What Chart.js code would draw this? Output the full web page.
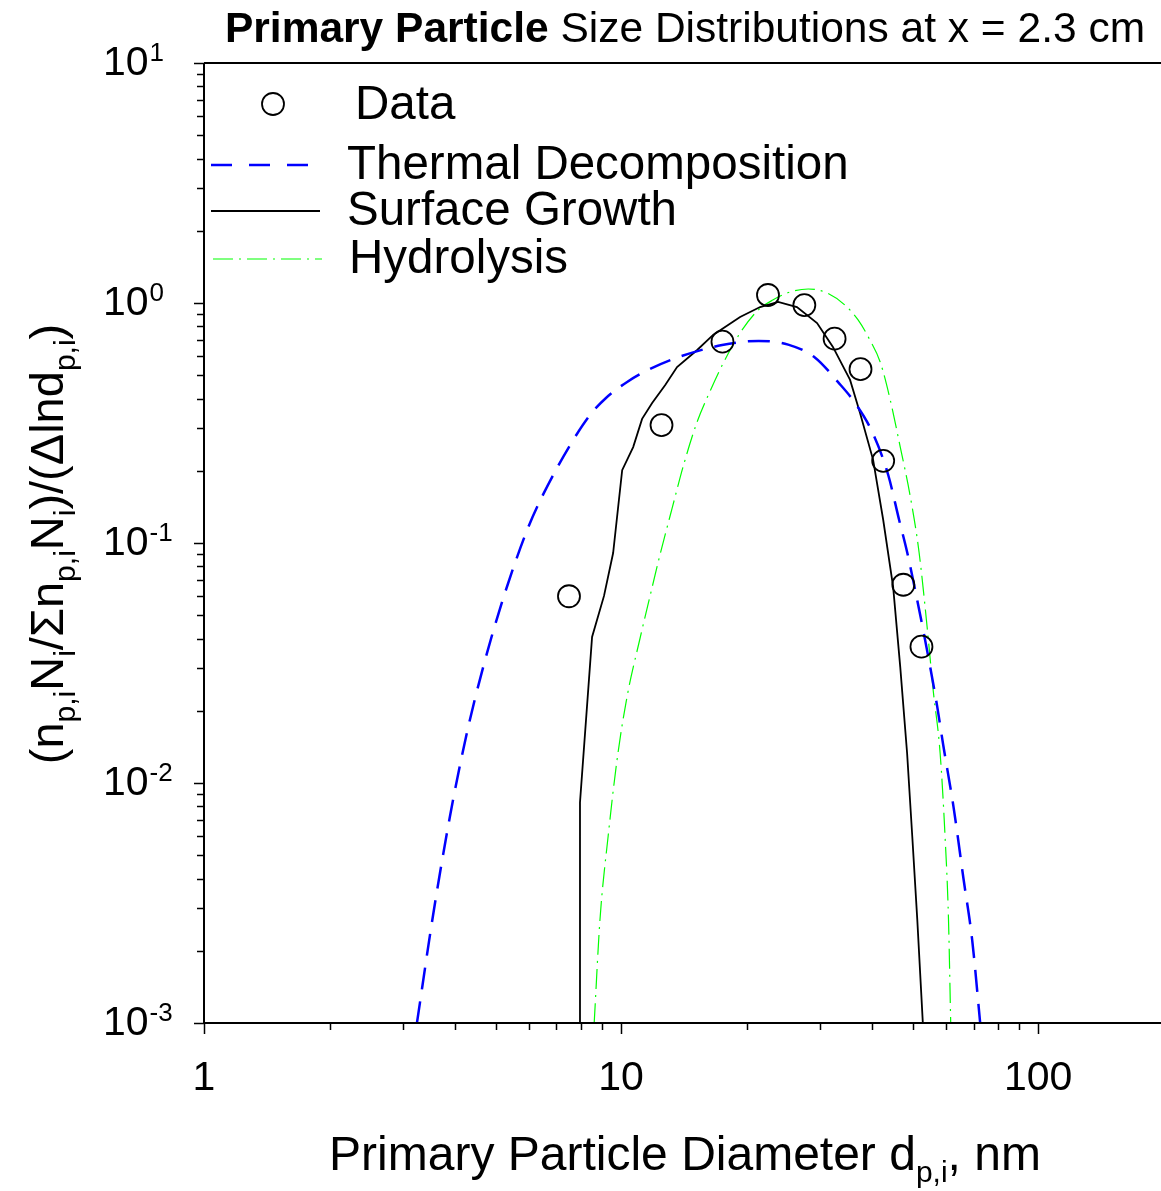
<!DOCTYPE html>
<html>
<head>
<meta charset="utf-8">
<title>Primary Particle Size Distributions</title>
<script src="https://cdn.jsdelivr.net/npm/chart.js@4.4.1/dist/chart.umd.min.js"></script>
<style>
  html, body { margin: 0; padding: 0; background: #fff; }
  #psd { display: block; }
</style>
</head>
<body>
<canvas id="psd" width="1161" height="1191"></canvas>
<script>
// Measured primary particle sizes (bin centres, nm) and normalised fractions
const dataDiameter = [7.5, 12.5, 17.5, 22.5, 27.5, 32.5, 37.5, 42.5, 47.5, 52.5];
const dataFraction = [0.060, 0.31, 0.69, 1.08, 0.98, 0.71, 0.53, 0.22, 0.067, 0.037];

// Model: thermal decomposition
const thermalDiameter = [3.24, 3.54, 3.89, 4.27, 4.67, 5.21, 5.95, 6.50, 7.55, 8.43, 9.2, 10.34, 11.73, 13.77, 17.47, 21.37,
  25.15, 29.19, 33.1, 36.4, 40.2, 43.7, 46.4, 48.5, 50.7, 53.0, 55.1, 57.3, 59.2, 62.7, 66.2, 69.5, 72.6];
const thermalValue = [0.001, 0.0028, 0.0073, 0.0162, 0.0304, 0.0584, 0.113, 0.159, 0.256, 0.342, 0.402, 0.469, 0.531, 0.596, 0.668, 0.695,
  0.671, 0.592, 0.469, 0.383, 0.285, 0.192, 0.125, 0.0917, 0.0637, 0.0434, 0.0304, 0.0207, 0.0144, 0.0079, 0.0040, 0.0022, 0.001];

// Model: surface growth
const surfaceDiameter = [7.94, 7.97, 8.52, 9.10, 9.57, 10.06, 10.69, 11.23, 11.87, 12.76, 13.62, 15.22, 16.62, 19.29,
  21.54, 23.8, 26.4, 29.5, 32.2, 35.4, 37.4, 40.2, 42.5, 44.9, 46.7, 48.5, 49.9, 51.3, 52.9];
const surfaceValue = [0.001, 0.0083, 0.0406, 0.0602, 0.0908, 0.201, 0.251, 0.329, 0.383, 0.455, 0.541, 0.637, 0.736, 0.874,
  0.962, 1.01, 0.962, 0.825, 0.656, 0.478, 0.348, 0.222, 0.125, 0.0656, 0.0304, 0.0133, 0.0060, 0.0027, 0.001];

// Model: hydrolysis
const hydroDiameter = [8.62, 8.90, 9.31, 9.78, 10.34, 11.1, 11.73, 12.41, 13.26, 14.16, 15.22, 16.35, 17.56, 19.29,
  21.2, 23.1, 25.4, 28.1, 31.2, 34.4, 37.0, 39.5, 41.8, 44.2, 46.7, 49.3, 51.8, 54.2, 56.0, 58.2, 59.8, 60.95, 61.7];
const hydroValue = [0.001, 0.0027, 0.0060, 0.0125, 0.0230, 0.0400, 0.0600, 0.090, 0.140, 0.215, 0.320, 0.430, 0.560, 0.750,
  0.926, 1.029, 1.111, 1.144, 1.10, 0.981, 0.850, 0.701, 0.568, 0.394, 0.251, 0.158, 0.0917, 0.0442, 0.0244, 0.0133, 0.0060, 0.0027, 0.001];

// Axis ticks
const xTickValues = [1, 10, 100];
const xTickLabels = ['1', '10', '100'];
const yTickExponents = [1, 0, -1, -2, -3];

const legendLabels = ['Data', 'Thermal Decomposition', 'Surface Growth', 'Hydrolysis'];

const FONT = '"Liberation Sans", Arial, Helvetica, sans-serif';
const DASH_BLUE = [22, 12];
const DASH_GREEN = [20, 6, 2, 6];

function toPoints(xs, ys) {
    return xs.map((x, i) => ({ x: x, y: ys[i] }));
}

// draws a run of text pieces; pieces flagged sub are smaller and dropped below the baseline
function drawRichText(ctx, pieces, x, y, size, subSize, subDrop) {
    let cx = x;
    pieces.forEach(p => {
        const weight = p.bold ? 'bold ' : '';
        ctx.font = weight + (p.sub ? subSize : size) + 'px ' + FONT;
        ctx.fillText(p.text, cx, p.sub ? y + subDrop : y);
        cx += ctx.measureText(p.text).width;
    });
    return cx - x;
}

function richWidth(ctx, pieces, size, subSize) {
    let w = 0;
    pieces.forEach(p => {
        ctx.font = (p.bold ? 'bold ' : '') + (p.sub ? subSize : size) + 'px ' + FONT;
        w += ctx.measureText(p.text).width;
    });
    return w;
}

// Frame, log ticks, labels, titles and legend
const decorations = {
    id: 'decorations',
    afterDraw(chart) {
        const ctx = chart.ctx;
        const area = chart.chartArea;
        const xs = chart.scales.x;
        const ys = chart.scales.y;
        ctx.save();
        ctx.strokeStyle = '#000';
        ctx.fillStyle = '#000';
        ctx.lineWidth = 2;

        // frame: left, bottom, top
        ctx.beginPath();
        ctx.moveTo(area.left, area.top);
        ctx.lineTo(area.left, area.bottom);
        ctx.lineTo(area.right, area.bottom);
        ctx.moveTo(area.left, area.top);
        ctx.lineTo(area.right, area.top);
        ctx.stroke();

        // x ticks (outward)
        ctx.lineWidth = 1.5;
        ctx.beginPath();
        for (let e = 0; e <= 2; e++) {
            for (let m = 1; m <= 9; m++) {
                const v = m * Math.pow(10, e);
                if (v > xs.max) break;
                const px = Math.round(xs.getPixelForValue(v)) + 0.5;
                ctx.moveTo(px, area.bottom);
                ctx.lineTo(px, area.bottom + (m === 1 ? 11 : 7));
            }
        }
        // y ticks (outward)
        for (let e = -3; e <= 1; e++) {
            for (let m = 1; m <= 9; m++) {
                const v = m * Math.pow(10, e);
                if (v > ys.max + 1e-9) break;
                const py = Math.round(ys.getPixelForValue(v)) + 0.5;
                ctx.moveTo(area.left, py);
                ctx.lineTo(area.left - (m === 1 ? 10 : 7), py);
            }
        }
        ctx.stroke();

        // x tick labels
        ctx.font = '41px ' + FONT;
        ctx.textAlign = 'center';
        ctx.textBaseline = 'middle';
        xTickValues.forEach((v, i) => {
            ctx.fillText(xTickLabels[i], xs.getPixelForValue(v), 1079);
        });

        // y tick labels as 10 with a raised exponent
        ctx.textAlign = 'left';
        yTickExponents.forEach(e => {
            const py = ys.getPixelForValue(Math.pow(10, e));
            ctx.font = '41px ' + FONT;
            ctx.textBaseline = 'middle';
            ctx.fillText('10', 103, py + 1);
            const w = ctx.measureText('10').width;
            ctx.font = '26px ' + FONT;
            ctx.textBaseline = 'alphabetic';
            ctx.fillText(e < 0 ? '-' + Math.abs(e) : String(e), 103 + w + 1, py - 2);
        });

        // chart title
        ctx.textBaseline = 'alphabetic';
        const titlePieces = [
            { text: 'Primary Particle', bold: true },
            { text: ' Size Distributions at x = 2.3 cm' }
        ];
        const tw = richWidth(ctx, titlePieces, 42.5, 42.5);
        drawRichText(ctx, titlePieces, 685 - tw / 2, 42, 42.5, 42.5, 0);

        // x axis title
        const xTitle = [
            { text: 'Primary Particle Diameter d' },
            { text: 'p,i', sub: true },
            { text: ', nm' }
        ];
        const xw = richWidth(ctx, xTitle, 48, 30);
        drawRichText(ctx, xTitle, 685 - xw / 2, 1170, 48, 30, 12);

        // y axis title, rotated
        const yTitle = [
            { text: '(n' }, { text: 'p,i', sub: true }, { text: 'N' }, { text: 'i', sub: true },
            { text: '/\u03A3n' }, { text: 'p,i', sub: true }, { text: 'N' }, { text: 'i', sub: true },
            { text: ')/(\u0394lnd' }, { text: 'p,i', sub: true }, { text: ')' }
        ];
        const yw = richWidth(ctx, yTitle, 47, 30);
        ctx.save();
        ctx.translate(63, 544);
        ctx.rotate(-Math.PI / 2);
        drawRichText(ctx, yTitle, -yw / 2, 0, 47, 30, 12);
        ctx.restore();

        // legend
        ctx.font = '47.5px ' + FONT;
        ctx.textBaseline = 'middle';
        ctx.lineWidth = 1.8;
        ctx.beginPath();
        ctx.arc(273, 104, 11, 0, Math.PI * 2);
        ctx.stroke();
        ctx.fillText(legendLabels[0], 355, 106);

        const rows = [
            { y: 165, color: chart.data.datasets[1].borderColor, width: 2.5, dash: [21, 17], x0: 211, x1: 318, textX: 347 },
            { y: 211, color: chart.data.datasets[2].borderColor, width: 1.8, dash: [], x0: 211, x1: 320, textX: 347 },
            { y: 259, color: chart.data.datasets[3].borderColor, width: 1.2, dash: DASH_GREEN, x0: 213, x1: 322, textX: 349 }
        ];
        rows.forEach((r, i) => {
            ctx.strokeStyle = r.color;
            ctx.lineWidth = r.width;
            ctx.setLineDash(r.dash);
            ctx.beginPath();
            ctx.moveTo(r.x0, r.y);
            ctx.lineTo(r.x1, r.y);
            ctx.stroke();
            ctx.setLineDash([]);
            ctx.fillStyle = '#000';
            ctx.fillText(legendLabels[i + 1], r.textX, r.y + 1);
        });
        ctx.restore();
    }
};

const ctx = document.getElementById('psd').getContext('2d');
new Chart(ctx, {
    type: 'line',
    data: {
        datasets: [
            {
                label: 'Data',
                data: toPoints(dataDiameter, dataFraction),
                showLine: false,
                pointStyle: 'circle',
                pointRadius: 11,
                pointBorderWidth: 1.8,
                pointBorderColor: '#000',
                pointBackgroundColor: 'rgba(0,0,0,0)',
                borderColor: '#000',
                order: 0
            },
            {
                label: 'Thermal Decomposition',
                data: toPoints(thermalDiameter, thermalValue),
                borderColor: '#0000ff',
                borderWidth: 2.5,
                borderDash: DASH_BLUE,
                pointRadius: 0,
                cubicInterpolationMode: 'monotone',
                fill: false
            },
            {
                label: 'Surface Growth',
                data: toPoints(surfaceDiameter, surfaceValue),
                borderColor: '#000000',
                borderWidth: 1.8,
                pointRadius: 0,
                tension: 0,
                fill: false
            },
            {
                label: 'Hydrolysis',
                data: toPoints(hydroDiameter, hydroValue),
                borderColor: '#00ff00',
                borderWidth: 1.2,
                borderDash: DASH_GREEN,
                pointRadius: 0,
                cubicInterpolationMode: 'monotone',
                fill: false
            }
        ]
    },
    options: {
        responsive: false,
        animation: false,
        devicePixelRatio: 1,
        layout: { autoPadding: false, padding: { top: 63, right: 0, left: 0, bottom: 0 } },
        plugins: {
            legend: { display: false },
            title: { display: false },
            tooltip: { enabled: false }
        },
        scales: {
            x: {
                type: 'logarithmic',
                min: 1,
                max: 197,
                grid: { display: false },
                border: { display: false },
                ticks: { display: false },
                afterFit: scale => { scale.height = 168; }
            },
            y: {
                type: 'logarithmic',
                min: 0.001,
                max: 10,
                grid: { display: false },
                border: { display: false },
                ticks: { display: false },
                afterFit: scale => { scale.width = 204; }
            }
        }
    },
    plugins: [decorations]
});
</script>
</body>
</html>
